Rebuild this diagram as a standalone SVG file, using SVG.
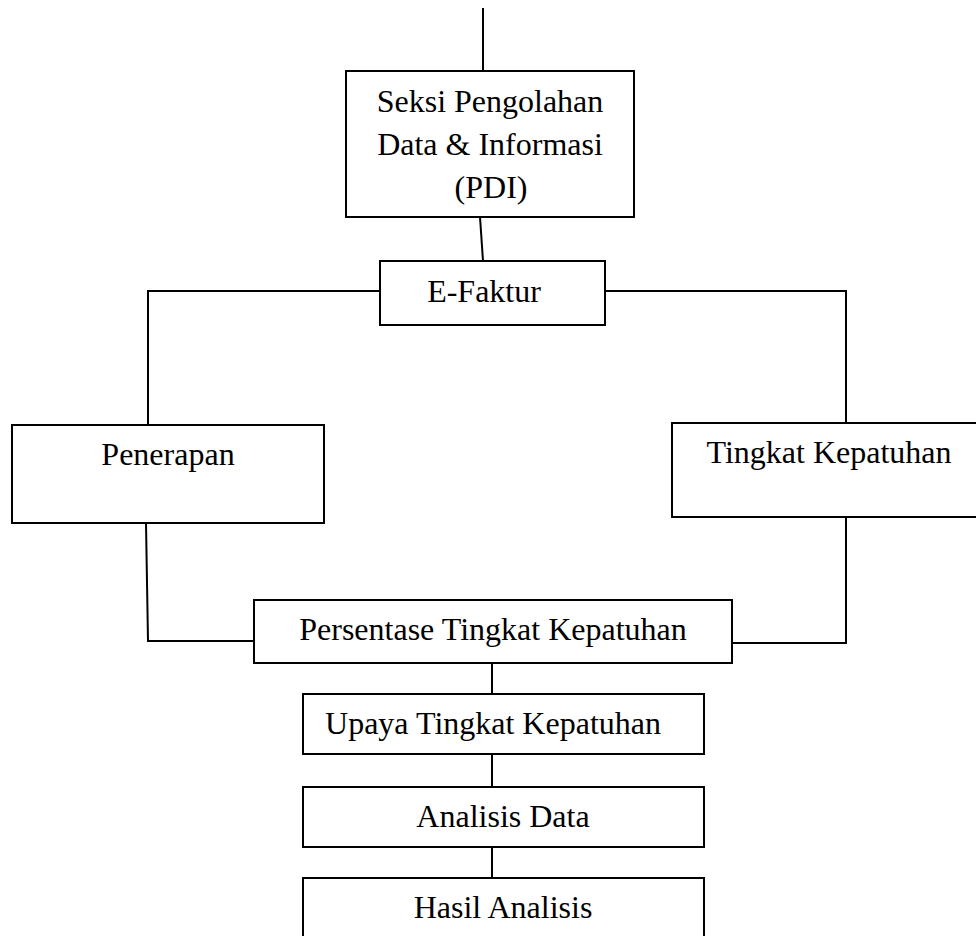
<svg xmlns="http://www.w3.org/2000/svg" width="976" height="936" viewBox="0 0 976 936">
<style>
.box{fill:#fff;stroke:#000;stroke-width:2}
.ln{fill:none;stroke:#000;stroke-width:2}
text{font-family:"Liberation Serif","Times New Roman",serif;font-size:32px;fill:#000;text-anchor:middle}
</style>
<rect width="976" height="936" fill="#fff"/>
<g id="connectors">
<line class="ln" x1="483" y1="8" x2="483" y2="71"/>
<line class="ln" x1="480" y1="217" x2="483" y2="261"/>
<polyline class="ln" points="380,291 148,291 148,425"/>
<polyline class="ln" points="605,291 846,291 846,423"/>
<polyline class="ln" points="146,523 148,641 254,641"/>
<polyline class="ln" points="846,517 846,643 732,643"/>
<line class="ln" x1="492" y1="663" x2="492" y2="694"/>
<line class="ln" x1="492" y1="754" x2="492" y2="787"/>
<line class="ln" x1="492" y1="847" x2="492" y2="878"/>
</g>
<g id="pdi">
<rect class="box" x="346" y="71" width="288" height="146"/>
<text x="490" y="112">Seksi Pengolahan</text>
<text x="490" y="155">Data &amp; Informasi</text>
<text x="491" y="198">(PDI)</text>
</g>
<g id="efaktur">
<rect class="box" x="380" y="261" width="225" height="64"/>
<text x="484" y="302">E-Faktur</text>
</g>
<g id="penerapan">
<rect class="box" x="12" y="425" width="312" height="98"/>
<text x="168" y="465">Penerapan</text>
</g>
<g id="tingkat">
<rect class="box" x="672" y="423" width="320" height="94"/>
<text x="829" y="463">Tingkat Kepatuhan</text>
</g>
<g id="persentase">
<rect class="box" x="254" y="600" width="478" height="63"/>
<text x="493" y="640">Persentase Tingkat Kepatuhan</text>
</g>
<g id="upaya">
<rect class="box" x="303" y="694" width="401" height="60"/>
<text x="493" y="734">Upaya Tingkat Kepatuhan</text>
</g>
<g id="analisis">
<rect class="box" x="303" y="787" width="401" height="60"/>
<text x="503" y="827">Analisis Data</text>
</g>
<g id="hasil">
<rect class="box" x="303" y="878" width="401" height="70"/>
<text x="503" y="918">Hasil Analisis</text>
</g>
</svg>
